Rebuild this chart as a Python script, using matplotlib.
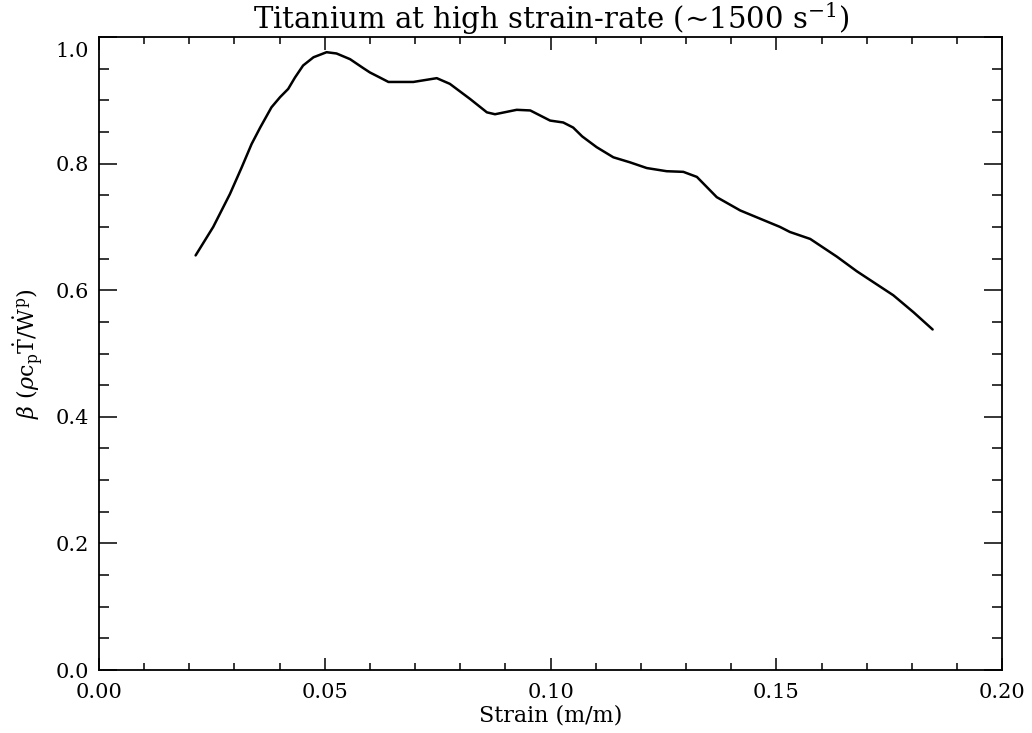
import matplotlib
matplotlib.use("Agg")
import matplotlib.pyplot as plt
import matplotlib.transforms as mtransforms
from matplotlib.ticker import MultipleLocator, FormatStrFormatter

# Fraction of plastic work converted to heat vs. strain
strain = [0.0214, 0.0253, 0.0290, 0.0316, 0.0338, 0.0357, 0.0382, 0.0401,
          0.0419, 0.0434, 0.0452, 0.0475, 0.0504, 0.0526, 0.0556, 0.0585,
          0.0600, 0.0622, 0.0641, 0.0696, 0.0748, 0.0777, 0.0822, 0.0859,
          0.0877, 0.0925, 0.0955, 0.0999, 0.1028, 0.1050, 0.1070, 0.1102,
          0.1139, 0.1176, 0.1213, 0.1257, 0.1294, 0.1324, 0.1346, 0.1368,
          0.1420, 0.1464, 0.1508, 0.1530, 0.1575, 0.1634, 0.1678, 0.1759,
          0.1804, 0.1846]
beta = [0.655, 0.700, 0.752, 0.794, 0.831, 0.857, 0.889, 0.905,
        0.918, 0.936, 0.955, 0.968, 0.976, 0.974, 0.965, 0.951,
        0.944, 0.936, 0.929, 0.929, 0.935, 0.926, 0.902, 0.881,
        0.878, 0.885, 0.884, 0.868, 0.865, 0.857, 0.843, 0.826,
        0.810, 0.802, 0.793, 0.788, 0.787, 0.779, 0.763, 0.747,
        0.726, 0.713, 0.700, 0.692, 0.681, 0.653, 0.630, 0.592,
        0.565, 0.538]

title = r"Titanium at high strain-rate (~1500 s$^{-1}$)"
xlabel = "Strain (m/m)"
ylabel = (r"$\beta\ (\rho\mathrm{c_p}\dot{\mathrm{T}}/"
          r"\dot{\mathrm{W}}^{\mathrm{p}})$")

plt.rcParams["font.family"] = ["DejaVu Serif"]
plt.rcParams["mathtext.fontset"] = "dejavuserif"

fig = plt.figure(figsize=(10.32, 7.33), dpi=100)
ax = fig.add_axes([0.0959, 0.0859, 0.8752, 0.8636])

ax.plot(strain, beta, color="black", lw=1.8,
        solid_capstyle="round", solid_joinstyle="round")

ax.set_xlim(0.0, 0.20)
ax.set_ylim(0.0, 1.0)
ax.xaxis.set_major_locator(MultipleLocator(0.05))
ax.xaxis.set_minor_locator(MultipleLocator(0.01))
ax.yaxis.set_major_locator(MultipleLocator(0.2))
ax.yaxis.set_minor_locator(MultipleLocator(0.05))
ax.xaxis.set_major_formatter(FormatStrFormatter("%.2f"))
ax.yaxis.set_major_formatter(FormatStrFormatter("%.1f"))

for s in ax.spines.values():
    s.set_linewidth(1.3)

ax.tick_params(which="both", direction="in", top=True, right=True,
               width=1.1, labelsize=15)
ax.tick_params(axis="x", which="major", length=9, pad=9)
ax.tick_params(axis="x", which="minor", length=5)
ax.tick_params(axis="y", which="major", length=13, pad=7)
ax.tick_params(axis="y", which="minor", length=7)

ax.set_title(title, fontsize=21, pad=3)
ax.set_xlabel(xlabel, fontsize=16, labelpad=2)
ax.set_ylabel(ylabel, fontsize=16, labelpad=8)

# nudge the top y tick label down so it sits inside the frame
fig.canvas.draw()
for lbl in ax.get_yticklabels():
    if lbl.get_text() == "1.0":
        lbl.set_transform(lbl.get_transform() +
                          mtransforms.ScaledTranslation(0, -12 / 100, fig.dpi_scale_trans))

fig.savefig("out.png", dpi=100)
